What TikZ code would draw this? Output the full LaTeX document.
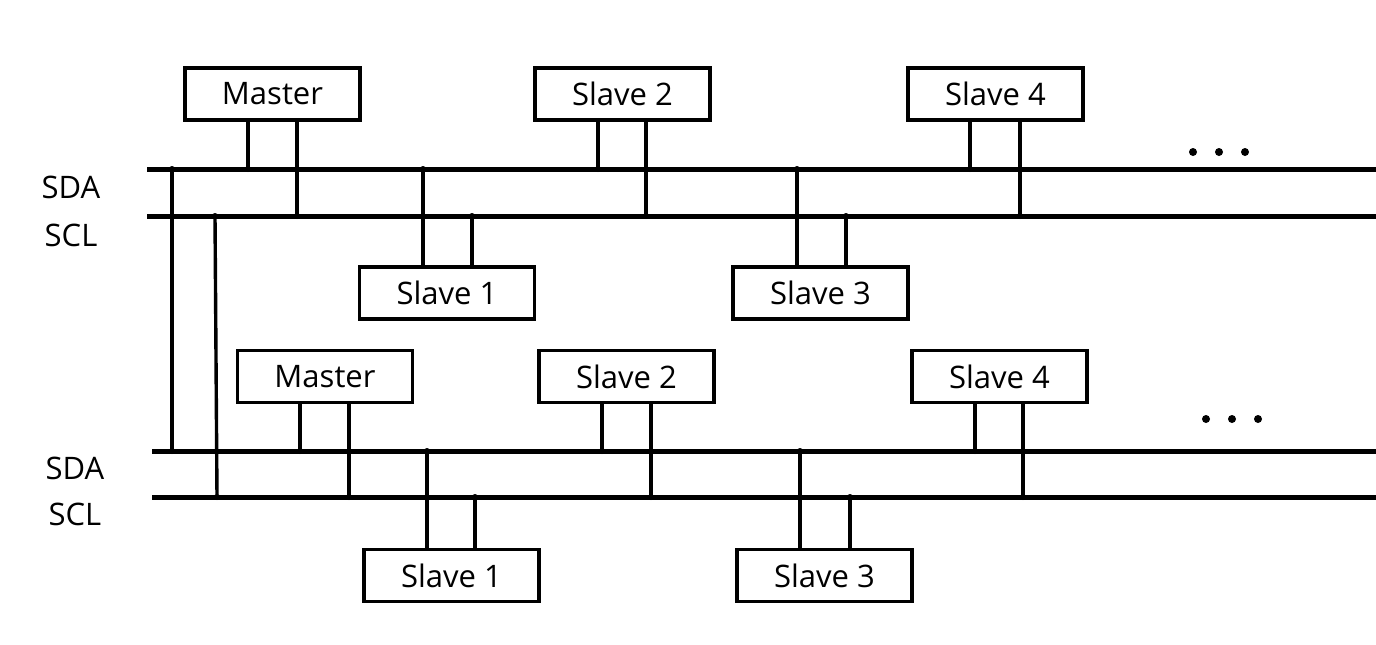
\documentclass[tikz,border=0pt]{standalone}
\usepackage{fontspec}
\setmainfont{Open Sans}
\usepackage{tikz}
\usetikzlibrary{positioning,calc}

\tikzset{
  dev/.style={draw,line width=1.6pt,minimum width=87.5pt,minimum height=26pt,
    inner sep=0pt,font=\fontsize{15.5}{18}\selectfont},
  bus/.style={line width=2.5pt},
  leg/.style={line width=1.7pt},
  lbl/.style={font=\fontsize{15.5}{18}\selectfont}
}

\begin{document}
\begin{tikzpicture}[x=0.5pt,y=-0.5pt]
  \useasboundingbox (0,0) rectangle (1376,644);
  % upper bus system
  \begin{scope}
    \coordinate (daA) at (147,169); \coordinate (daAe) at (1376,169);
    \coordinate (clA) at (147,216); \coordinate (clAe) at (1376,216);
    \draw[bus] (daA)--(daAe); \draw[bus] (clA)--(clAe);
    \node[lbl] (sdaA) at (71,187) {SDA};
    \node[lbl] (sclA) at (71,235) {SCL};
    \foreach \n/\t/\x/\a/\b in {mA/Master/272.5/248/297,s2A/Slave 2/622.5/598/646,s4A/Slave 4/995.5/970/1020}{
      \node[dev] (\n) at (\x,94) {\t};
      \draw[leg] (\n.south -| \a,0) -- (\a,169) coordinate (\n-da);
      \draw[leg] (\n.south -| \b,0) -- (\b,216) coordinate (\n-cl);
      \fill (\n-da) circle (3); \fill (\n-cl) circle (3);
    }
    \foreach \n/\t/\x/\a/\b in {s1A/Slave 1/447/423/472,s3A/Slave 3/820.5/797/846}{
      \node[dev] (\n) at (\x,293) {\t};
      \draw[leg] (\n.north -| \a,0) -- (\a,169) coordinate (\n-da);
      \draw[leg] (\n.north -| \b,0) -- (\b,216) coordinate (\n-cl);
      \fill (\n-da) circle (3); \fill (\n-cl) circle (3);
    }
    \foreach \x in {1193,1219,1245} \fill (\x,152) circle (4);
  \end{scope}
  % lower bus system
  \begin{scope}[shift={(0,282)}]
    \coordinate (daB) at (152,169); \coordinate (daBe) at (1376,169);
    \coordinate (clB) at (152,215); \coordinate (clBe) at (1376,215);
    \draw[bus] (daB)--(daBe); \draw[bus] (clB)--(clBe);
    \node[lbl] (sdaB) at (75,186) {SDA};
    \node[lbl] (sclB) at (75,232) {SCL};
    \foreach \n/\t/\x/\a/\b in {mB/Master/325/300/349,s2B/Slave 2/626.5/602/651,s4B/Slave 4/999.5/975/1023}{
      \node[dev] (\n) at (\x,94.5) {\t};
      \draw[leg] (\n.south -| \a,0) -- (\a,169) coordinate (\n-da);
      \draw[leg] (\n.south -| \b,0) -- (\b,215) coordinate (\n-cl);
      \fill (\n-da) circle (3); \fill (\n-cl) circle (3);
    }
    \foreach \n/\t/\x/\a/\b in {s1B/Slave 1/451.5/427/475,s3B/Slave 3/824.5/800/850}{
      \node[dev] (\n) at (\x,293.5) {\t};
      \draw[leg] (\n.north -| \a,0) -- (\a,169) coordinate (\n-da);
      \draw[leg] (\n.north -| \b,0) -- (\b,215) coordinate (\n-cl);
      \fill (\n-da) circle (3); \fill (\n-cl) circle (3);
    }
    \foreach \x in {1206,1232,1258} \fill (\x,137) circle (4);
  \end{scope}
  % links between the two buses
  \coordinate (lkA) at (172,169); \coordinate (lkB) at (172,451);
  \coordinate (lkC) at (215,216); \coordinate (lkD) at (217,497);
  \draw[leg] (lkA)--(lkB); \draw[leg] (lkC)--(lkD);
  \foreach \p in {lkA,lkB,lkC,lkD} \fill (\p) circle (3);
\end{tikzpicture}
\end{document}
